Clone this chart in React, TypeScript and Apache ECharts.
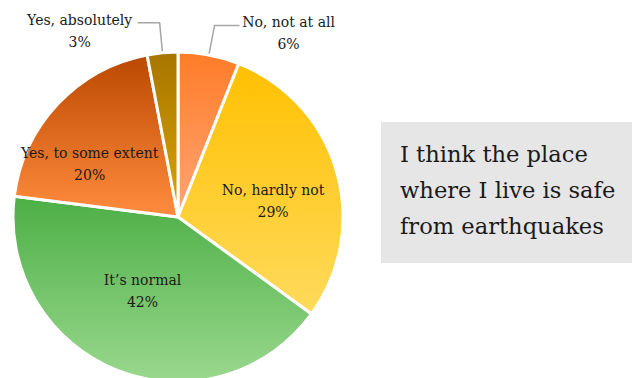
import React, { useEffect, useRef } from "react";
import * as echarts from "echarts";

const categories = ["No, not at all", "No, hardly not", "It’s normal", "Yes, to some extent", "Yes, absolutely"];
const values = [6, 29, 42, 20, 3];
const outsideLabel = [true, false, false, false, true];
const topColors = ["#FF7C27", "#FFC000", "#4CAF45", "#BB4800", "#A87500"];
const bottomColors = ["#FFA678", "#FFDA5C", "#9AD88E", "#FF8C3E", "#DAA600"];
const labelOffsets: [number, number][] = [[0, 0], [13, 8], [-4, -5], [-26, 6], [0, 0]];
const boxLines = ["I think the place", "where I live is safe", "from earthquakes"];

const FONT = "DejaVu Serif";

export default function App() {
  const ref = useRef<HTMLDivElement>(null);
  useEffect(() => {
    if (!ref.current) return;
    const chart = echarts.init(ref.current, null, { renderer: "svg" });
    const data = categories.map((name, i) => {
      const outside = outsideLabel[i];
      const right = i === 0;
      return {
        name,
        value: values[i],
        itemStyle: {
          color: new echarts.graphic.LinearGradient(0, 0, 0, 1, [
            { offset: 0, color: topColors[i] },
            { offset: 1, color: bottomColors[i] },
          ]),
        },
        label: outside
          ? {
              position: "outside",
              formatter: "{a|{b}}\n{a|{c}%}",
              padding: [16, 0, 0, 0],
              distanceToLabelLine: 3,
              fontFamily: FONT,
              rich: {
                a: {
                  width: right ? 92 : 110,
                  align: "center",
                  fontFamily: FONT,
                  fontSize: 14,
                  lineHeight: 22,
                  color: "#1a1a1a",
                },
              },
            }
          : { position: "inside", fontFamily: FONT },
        labelLine: outside
          ? { show: true, length: 30, length2: right ? 25 : 22, smooth: false }
          : { show: false },
      };
    });
    chart.setOption({
      animation: false,
      backgroundColor: "#ffffff",
      textStyle: { fontFamily: FONT },
      graphic: [
        {
          type: "rect",
          shape: { x: 381, y: 122, width: 251, height: 141 },
          style: { fill: "#E6E6E6" },
          silent: true,
        },
        {
          type: "text",
          x: 400,
          y: 136,
          style: {
            text: boxLines.join("\n"),
            fontFamily: FONT,
            fontSize: 22.6,
            lineHeight: 36,
            fill: "#1a1a1a",
            textAlign: "left",
            textVerticalAlign: "top",
          },
        },
      ],
      series: [
        {
          type: "pie",
          center: [178, 217],
          radius: 165,
          startAngle: 90,
          clockwise: true,
          avoidLabelOverlap: false,
          itemStyle: { borderColor: "#ffffff", borderWidth: 3 },
          label: {
            show: true,
            formatter: "{b}\n{c}%",
            fontFamily: FONT,
            fontSize: 14,
            lineHeight: 22,
            color: "#1a1a1a",
          },
          labelLine: { lineStyle: { color: "#A6A6A6", width: 1.5 } },
          labelLayout: (params: any) => {
            const o = labelOffsets[params.dataIndex];
            return { dx: o[0], dy: o[1] };
          },
          emphasis: { disabled: true },
          data,
        },
      ],
    });
    return () => chart.dispose();
  }, []);
  return (
    <div
      ref={ref}
      style={{ position: "fixed", left: 0, top: 0, width: 632, height: 378 }}
    />
  );
}
